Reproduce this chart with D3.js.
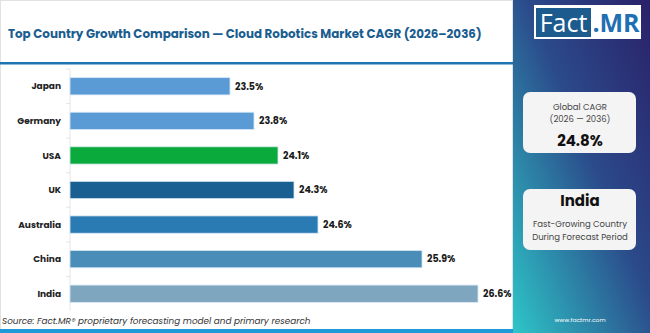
<!DOCTYPE html>
<html>
<head>
<meta charset="utf-8">
<script src="https://cdn.jsdelivr.net/npm/d3@7"></script>
<style>
  body { margin: 0; background: #fff; }
  svg { display: block; font-family: "Poppins", "Lato", "Noto Sans", sans-serif; }
</style>
</head>
<body>
<svg id="chart" width="650" height="333"></svg>
<script>
// datos del gráfico
const paises = ["Japan", "Germany", "USA", "UK", "Australia", "China", "India"];
const cagr = [23.5, 23.8, 24.1, 24.3, 24.6, 25.9, 26.6];
const colores = ["#5b9bd5", "#5b9bd5", "#0aab3c", "#1a5f91", "#2a7ab3", "#4a8db8", "#7ea7bf"];
const titulo = "Top Country Growth Comparison \u2014 Cloud Robotics Market CAGR (2026\u20132036)";
const fuente = "Source: Fact.MR\u00AE proprietary forecasting model and primary research";
const globalCagr = "24.8%";
const paisTop = "India";

const svg = d3.select("#chart");
const width = 650, height = 333;
const panelX = 513;

// ajustar ancho de un texto
function ajustar(sel, ancho) {
    const w = sel.node().getComputedTextLength();
    const fs = parseFloat(sel.attr("font-size"));
    sel.attr("font-size", fs * ancho / w);
}

// Panel izquierdo
svg.append("rect")
    .attr("x", 0.5).attr("y", 0.5)
    .attr("width", panelX - 1).attr("height", height - 1)
    .attr("fill", "#fff")
    .attr("stroke", "#e2e2e2");

const t = svg.append("text")
    .attr("x", 8).attr("y", 38)
    .attr("font-size", 13)
    .attr("font-weight", 700)
    .attr("fill", "#1a5d8f")
    .text(titulo);
ajustar(t, 474);

svg.append("rect")
    .attr("x", 0).attr("y", 62)
    .attr("width", panelX).attr("height", 2.5)
    .attr("fill", "#1f73b0");

// Escalas
const margin = { top: 69, bottom: 311, left: 70 };
const y = d3.scaleBand()
    .domain(paises)
    .range([margin.top, margin.bottom])
    .paddingInner(0.5)
    .paddingOuter(0.25);

const x = d3.scaleLinear()
    .domain([21.5, 27])
    .range([margin.left, 510]);

// Eje Y
svg.append("line")
    .attr("x1", margin.left).attr("x2", margin.left)
    .attr("y1", margin.top).attr("y2", margin.bottom)
    .attr("stroke", "#e6e6e6");

svg.append("g")
    .selectAll("line")
    .data(paises)
    .join("line")
    .attr("x1", margin.left - 4).attr("x2", margin.left)
    .attr("y1", d => y(d) - y.step() * 0.25)
    .attr("y2", d => y(d) - y.step() * 0.25)
    .attr("stroke", "#e6e6e6");

svg.append("g")
    .selectAll("text")
    .data(paises)
    .join("text")
    .attr("x", 61)
    .attr("y", d => y(d) + y.bandwidth() / 2)
    .attr("dy", "0.35em")
    .attr("text-anchor", "end")
    .attr("font-size", 9)
    .attr("font-weight", 700)
    .attr("fill", "#222")
    .text(d => d);

// Barras
svg.append("g")
    .selectAll("rect")
    .data(paises)
    .join("rect")
    .attr("x", x(21.5))
    .attr("y", (d) => y(d))
    .attr("width", (d, i) => x(cagr[i]) - x(21.5))
    .attr("height", y.bandwidth())
    .attr("fill", (d, i) => colores[i])
    .attr("stroke", "#d6e8f5")
    .attr("stroke-width", 0.8);

svg.append("g")
    .selectAll("text")
    .data(paises)
    .join("text")
    .attr("x", (d, i) => x(cagr[i]) + 5)
    .attr("y", d => y(d) + y.bandwidth() / 2)
    .attr("dy", "0.35em")
    .attr("font-size", 9.5)
    .attr("font-weight", 700)
    .attr("fill", "#1a1a1a")
    .text((d, i) => cagr[i].toFixed(1) + "%");

// Fuente
const f = svg.append("text")
    .attr("x", 2).attr("y", 324)
    .attr("font-size", 10)
    .attr("font-style", "italic")
    .attr("fill", "#333")
    .text(fuente);
ajustar(f, 309);

svg.append("rect")
    .attr("x", 0).attr("y", 329)
    .attr("width", panelX).attr("height", 4)
    .attr("fill", "#1e9ad6");

// Panel derecho
const defs = svg.append("defs");
const grad = defs.append("linearGradient")
    .attr("id", "gradPanel")
    .attr("x1", "1").attr("y1", "0")
    .attr("x2", "0").attr("y2", "1");
grad.append("stop").attr("offset", "0").attr("stop-color", "#2a2169");
grad.append("stop").attr("offset", "0.45").attr("stop-color", "#2b4a8a");
grad.append("stop").attr("offset", "1").attr("stop-color", "#2ec6c8");

svg.append("rect")
    .attr("x", panelX).attr("y", 0)
    .attr("width", width - panelX).attr("height", height)
    .attr("fill", "url(#gradPanel)");

// Logo
svg.append("rect")
    .attr("x", 534).attr("y", 5)
    .attr("width", 107).attr("height", 34)
    .attr("fill", "#fff");
svg.append("rect")
    .attr("x", 536).attr("y", 8)
    .attr("width", 55).attr("height", 29)
    .attr("fill", "#1c5b8e");
svg.append("text")
    .attr("x", 563.5).attr("y", 32)
    .attr("text-anchor", "middle")
    .attr("font-family", "Open Sans, sans-serif")
    .attr("font-size", 25)
    .attr("fill", "#fff")
    .text("Fact");
svg.append("text")
    .attr("x", 616).attr("y", 32)
    .attr("text-anchor", "middle")
    .attr("font-family", "Open Sans, sans-serif")
    .attr("font-size", 25)
    .attr("font-weight", 700)
    .attr("fill", "#1e6fb3")
    .text(".MR");

// Tarjetas
const cx = 580;
svg.append("rect")
    .attr("x", 523).attr("y", 92)
    .attr("width", 113).attr("height", 61)
    .attr("rx", 7)
    .attr("fill", "#f4f4f4");
svg.append("text").attr("x", cx).attr("y", 110)
    .attr("text-anchor", "middle").attr("font-size", 8.5).attr("fill", "#444")
    .text("Global CAGR");
svg.append("text").attr("x", cx).attr("y", 122)
    .attr("text-anchor", "middle").attr("font-size", 8.5).attr("fill", "#444")
    .text("(2026 \u2014 2036)");
svg.append("text").attr("x", cx).attr("y", 146)
    .attr("text-anchor", "middle").attr("font-size", 15).attr("font-weight", 700).attr("fill", "#111")
    .text(globalCagr);

svg.append("rect")
    .attr("x", 523).attr("y", 189)
    .attr("width", 113).attr("height", 61)
    .attr("rx", 7)
    .attr("fill", "#f4f4f4");
svg.append("text").attr("x", cx).attr("y", 206)
    .attr("text-anchor", "middle").attr("font-size", 15).attr("font-weight", 700).attr("fill", "#111")
    .text(paisTop);
svg.append("text").attr("x", cx).attr("y", 227)
    .attr("text-anchor", "middle").attr("font-size", 8.5).attr("fill", "#444")
    .text("Fast-Growing Country");
svg.append("text").attr("x", cx).attr("y", 240)
    .attr("text-anchor", "middle").attr("font-size", 8.5).attr("fill", "#444")
    .text("During Forecast Period");

svg.append("text").attr("x", cx).attr("y", 322)
    .attr("text-anchor", "middle").attr("font-size", 6).attr("fill", "#fff")
    .text("www.factmr.com");
</script>
</body>
</html>
